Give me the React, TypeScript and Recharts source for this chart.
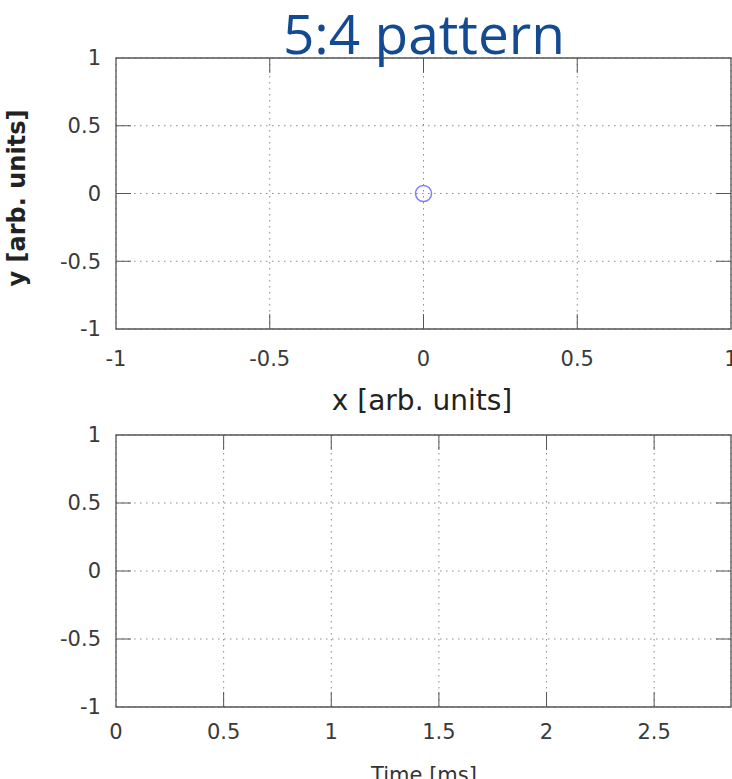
import { ScatterChart, Scatter, XAxis, YAxis, CartesianGrid, ReferenceArea, ReferenceLine } from "recharts"

// upper panel: x/y phase plot
const xyTicks = [-1, -0.5, 0, 0.5, 1]
const xyPoints = [{ x: 0, y: 0 }]

// lower panel: signal over time (nothing drawn in this frame)
const timeTicks = [0, 0.5, 1, 1.5, 2, 2.5]
const ampTicks = [-1, -0.5, 0, 0.5, 1]
const timeMax = 2.857
const timeSignal: { t: number; v: number }[] = []

const TICK_FONT = { fontFamily: "DejaVu Sans", fontSize: 21, fill: "#3a3a3a" }
const GRID = "#8a8a8a"
const BORDER = "#555"

function innerTicks(xTicks: number[], yTicks: number[], xDom: number[], yDom: number[], dx: number, dy: number, prefix: string) {
  const lines = []
  xTicks.forEach((t, i) => {
    if (t <= xDom[0] || t >= xDom[1]) return
    lines.push(
      <ReferenceLine key={`${prefix}b${i}`} segment={[{ x: t, y: yDom[0] }, { x: t, y: yDom[0] + dy }]} stroke={BORDER} />,
      <ReferenceLine key={`${prefix}t${i}`} segment={[{ x: t, y: yDom[1] }, { x: t, y: yDom[1] - dy }]} stroke={BORDER} />
    )
  })
  yTicks.forEach((t, i) => {
    if (t <= yDom[0] || t >= yDom[1]) return
    lines.push(
      <ReferenceLine key={`${prefix}l${i}`} segment={[{ x: xDom[0], y: t }, { x: xDom[0] + dx, y: t }]} stroke={BORDER} />,
      <ReferenceLine key={`${prefix}r${i}`} segment={[{ x: xDom[1], y: t }, { x: xDom[1] - dx, y: t }]} stroke={BORDER} />
    )
  })
  return lines
}

function RingDot(props: { cx?: number; cy?: number }) {
  return <circle cx={props.cx} cy={props.cy} r={8} fill="none" stroke="#7d7dff" strokeWidth={1.5} />
}

export default function App() {
  return (
    <div style={{ position: "absolute", left: 0, top: 0, width: 732, height: 779, overflow: "hidden", background: "#fff" }}>
      <div style={{ position: "absolute", left: 0, top: 0 }}>
        <ScatterChart width={760} height={420} margin={{ top: 58, right: 29, bottom: 0, left: 0 }}>
          <CartesianGrid stroke={GRID} strokeDasharray="1.5 4.5" />
          <XAxis type="number" dataKey="x" domain={[-1, 1]} ticks={xyTicks} height={91} axisLine={false} tickLine={false} tickSize={0} tickMargin={22} tick={TICK_FONT} allowDataOverflow />
          <YAxis type="number" dataKey="y" domain={[-1, 1]} ticks={xyTicks} width={116} axisLine={false} tickLine={false} tickSize={0} tickMargin={15} tick={TICK_FONT} allowDataOverflow />
          <ReferenceArea x1={-1} x2={1} y1={-1} y2={1} fill="none" stroke={BORDER} strokeWidth={1.3} />
          {innerTicks(xyTicks, xyTicks, [-1, 1], [-1, 1], 0.049, 0.11, "xy")}
          <Scatter data={xyPoints} shape={<RingDot />} isAnimationActive={false} />
        </ScatterChart>
      </div>
      <div style={{ position: "absolute", left: 0, top: 380 }}>
        <ScatterChart width={760} height={420} margin={{ top: 55, right: 29, bottom: 0, left: 0 }}>
          <CartesianGrid stroke={GRID} strokeDasharray="1.5 4.5" />
          <XAxis type="number" dataKey="t" domain={[0, timeMax]} ticks={timeTicks} height={93} axisLine={false} tickLine={false} tickSize={0} tickMargin={17} tick={TICK_FONT} allowDataOverflow />
          <YAxis type="number" dataKey="v" domain={[-1, 1]} ticks={ampTicks} width={116} axisLine={false} tickLine={false} tickSize={0} tickMargin={15} tick={TICK_FONT} allowDataOverflow />
          <ReferenceArea x1={0} x2={timeMax} y1={-1} y2={1} fill="none" stroke={BORDER} strokeWidth={1.3} />
          {innerTicks(timeTicks, ampTicks, [0, timeMax], [-1, 1], 0.0697, 0.11, "tv")}
          <Scatter data={timeSignal} fill="#7d7dff" isAnimationActive={false} />
        </ScatterChart>
      </div>
      <svg width={732} height={779} style={{ position: "absolute", left: 0, top: 0, pointerEvents: "none" }}>
        <text x={424} y={54} textAnchor="middle" fontFamily="'Open Sans', sans-serif" fontSize={55} fill="#134a92">5:4 pattern</text>
        <text x={422} y={410} textAnchor="middle" fontFamily="DejaVu Sans" fontSize={28} fill="#222">x [arb. units]</text>
        <text transform="translate(25,198) rotate(-90)" textAnchor="middle" fontFamily="DejaVu Sans" fontWeight="bold" fontSize={24} fill="#222">y [arb. units]</text>
        <text x={424} y={782} textAnchor="middle" fontFamily="DejaVu Sans" fontSize={21} fill="#333">Time [ms]</text>
      </svg>
    </div>
  )
}
